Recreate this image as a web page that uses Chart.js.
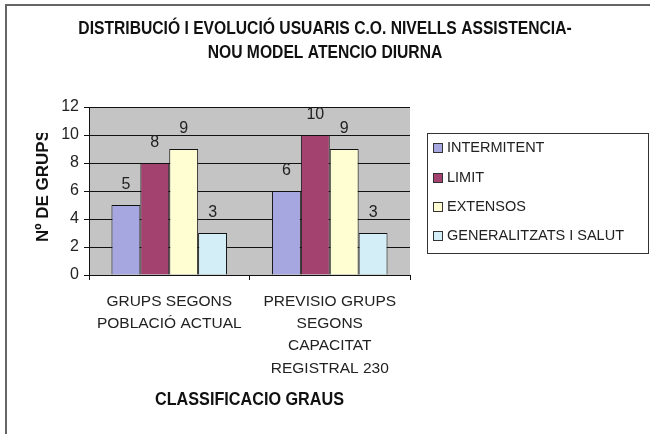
<!DOCTYPE html>
<html>
<head>
<meta charset="utf-8">
<script src="https://cdn.jsdelivr.net/npm/chart.js@4.4.0/dist/chart.umd.min.js"></script>
<style>
  html, body { margin: 0; padding: 0; background: #fff; }
  #wrap { width: 650px; height: 434px; position: relative; }
</style>
</head>
<body>
<div id="wrap"><canvas id="grupsChart" width="650" height="434"></canvas></div>
<script>
// data
const categories = [
    ["GRUPS SEGONS", "POBLACIÓ ACTUAL"],
    ["PREVISIO GRUPS", "SEGONS", "CAPACITAT", "REGISTRAL 230"]
];
const seriesNames = ["INTERMITENT", "LIMIT", "EXTENSOS", "GENERALITZATS I SALUT"];
const intermitent = [5, 6];
const limit = [8, 10];
const extensos = [9, 9];
const generalitzats = [3, 3];
const yTicks = [0, 2, 4, 6, 8, 10, 12];

const titleLines = ["DISTRIBUCIÓ I EVOLUCIÓ USUARIS C.O. NIVELLS ASSISTENCIA-", "NOU MODEL ATENCIO DIURNA"];
const xTitle = "CLASSIFICACIO GRAUS";
const yTitle = "Nº DE GRUPS";

const colors = ["#A6A6E0", "#A3416F", "#FFFDD2", "#D3EEF6"];
const FONT = "'Liberation Sans', Arial, sans-serif";

// bold text squeezed horizontally, like Arial Narrow Bold
function narrowText(ctx, text, x, y, size, squeeze) {
    ctx.save();
    ctx.font = "bold " + size + "px " + FONT;
    ctx.textAlign = "center";
    ctx.textBaseline = "middle";
    ctx.translate(x, y);
    ctx.scale(squeeze, 1);
    ctx.fillText(text, 0, 0);
    ctx.restore();
}

// grey plot background, titles, value labels and legend box
const extrasPlugin = {
    id: "extras",
    beforeDraw(chart) {
        const { ctx, chartArea: a } = chart;
        ctx.save();
        ctx.fillStyle = "#fff";
        ctx.fillRect(0, 0, chart.width, chart.height);
        ctx.fillStyle = "#C4C4C4";
        ctx.fillRect(a.left, a.top, a.right - a.left, a.bottom - a.top);
        // outer frame (only left & top visible in the original)
        ctx.strokeStyle = "#666";
        ctx.lineWidth = 2;
        ctx.beginPath();
        ctx.moveTo(6, chart.height + 2);
        ctx.lineTo(6, 5);
        ctx.lineTo(chart.width + 2, 5);
        ctx.stroke();
        ctx.restore();
    },
    afterDatasetsDraw(chart) {
        const { ctx, chartArea: a } = chart;
        ctx.save();
        ctx.fillStyle = "#222";
        ctx.font = "16px " + FONT;
        ctx.textAlign = "center";
        ctx.textBaseline = "middle";
        chart.data.datasets.forEach((ds, i) => {
            chart.getDatasetMeta(i).data.forEach((bar, j) => {
                ctx.fillText(String(ds.data[j]), bar.x, bar.y - 20);
            });
        });

        // chart title + x axis title
        ctx.fillStyle = "#111";
        narrowText(ctx, titleLines[0], chart.width / 2, 29, 18, 0.87);
        narrowText(ctx, titleLines[1], chart.width / 2, 53, 18, 0.87);
        narrowText(ctx, xTitle, (a.left + a.right) / 2, 400, 18, 0.9);

        // y axis title, clipped like the original
        ctx.save();
        ctx.beginPath();
        ctx.rect(0, 133, 80, 300);
        ctx.clip();
        ctx.translate(43, 242);
        ctx.rotate(-Math.PI / 2);
        ctx.textAlign = "left";
        ctx.font = "bold 17px " + FONT;
        ctx.fillText(yTitle, 0, 0);
        ctx.restore();

        // legend
        const lx = 427, ly = 133, lw = 221, lh = 120;
        ctx.strokeStyle = "#333";
        ctx.lineWidth = 1;
        ctx.strokeRect(lx + 0.5, ly + 0.5, lw, lh);
        ctx.font = "14.5px " + FONT;
        ctx.textAlign = "left";
        const rows = [148, 178, 207, 236];
        chart.data.datasets.forEach((ds, i) => {
            ctx.fillStyle = ds.backgroundColor;
            ctx.fillRect(433, rows[i] - 5, 10, 10);
            ctx.strokeStyle = "#333";
            ctx.strokeRect(433.5, rows[i] - 4.5, 9, 9);
            ctx.fillStyle = "#222";
            ctx.fillText(ds.label, 447, rows[i]);
        });
        ctx.restore();
    }
};

const seriesValues = [intermitent, limit, extensos, generalitzats];

new Chart(document.getElementById("grupsChart"), {
    type: "bar",
    data: {
        labels: categories,
        datasets: seriesNames.map((name, i) => ({
            label: name,
            data: seriesValues[i],
            backgroundColor: colors[i],
            borderColor: "#111",
            borderWidth: 1,
            categoryPercentage: 0.72,
            barPercentage: 1.0
        }))
    },
    options: {
        responsive: false,
        animation: false,
        layout: { padding: { left: 0, top: 107, right: 240, bottom: 0 } },
        plugins: {
            legend: { display: false },
            title: { display: false },
            tooltip: { enabled: false }
        },
        scales: {
            x: {
                afterFit: s => { s.height = 159; },
                border: { color: "#111", width: 1 },
                grid: { offset: true, drawOnChartArea: false, color: "#111", tickLength: 5 },
                ticks: {
                    color: "#222",
                    font: { family: FONT, size: 15.5, lineHeight: 1.45 },
                    padding: 10,
                    maxRotation: 0,
                    autoSkip: false
                }
            },
            y: {
                min: 0,
                max: 12,
                afterFit: s => { s.width = 89; },
                afterBuildTicks: s => { s.ticks = yTicks.map(v => ({ value: v })); },
                border: { color: "#111", width: 1 },
                grid: { color: "#111", lineWidth: 1, tickLength: 5 },
                ticks: {
                    color: "#222",
                    font: { family: FONT, size: 16 },
                    padding: 5
                }
            }
        }
    },
    plugins: [extrasPlugin]
});
</script>
</body>
</html>
